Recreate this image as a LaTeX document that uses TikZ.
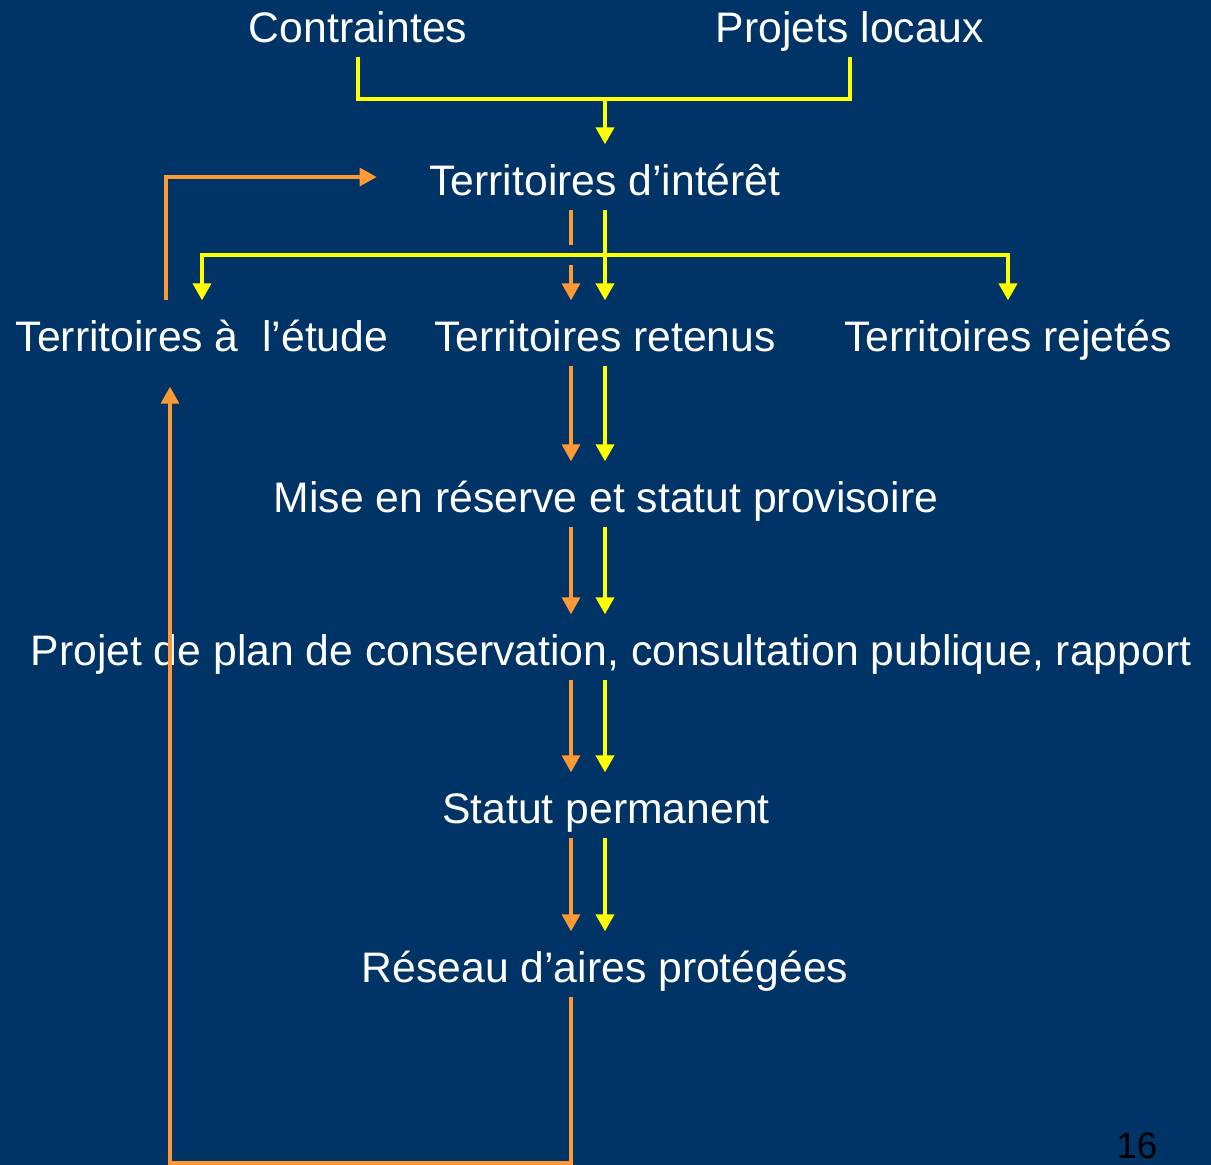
\documentclass[tikz,border=0pt]{standalone}
\usepackage{fontspec}
\setmainfont{Liberation Sans}
\usetikzlibrary{arrows.meta}
\definecolor{slidebg}{RGB}{0,51,102}
\definecolor{lineyellow}{RGB}{255,255,0}
\definecolor{lineorange}{RGB}{255,153,51}
\begin{document}
\begin{tikzpicture}[
	label/.style={text=white, font=\fontsize{12.15}{14}\selectfont, anchor=base, inner sep=0pt, text height=0.5cm, text depth=0.14cm},
	yel/.style={draw=lineyellow, line width=1.1pt},
	ora/.style={draw=lineorange, line width=0.9pt},
	tip/.style={-{Triangle[width=0.18cm,length=0.17cm]}},
	gap/.style={preaction={draw=slidebg, line width=0.2cm, -}}
	]
	\fill[slidebg] (0,0) rectangle (12.11,-11.65);
	\useasboundingbox (0,0) rectangle (12.11,-11.65);
	\node[label] (contr) at (3.58,-0.42) {Contraintes};
	\node[label] (projloc) at (8.50,-0.42) {Projets locaux};
	\node[label] (interet) at (6.05,-1.95) {Territoires d’intérêt};
	\node[label] (etude) at (2.02,-3.51) {Territoires à\ \ l’étude};
	\node[label] (retenus) at (6.05,-3.51) {Territoires retenus};
	\node[label] (rejetes) at (10.08,-3.51) {Territoires rejetés};
	\node[label] (reserve) at (6.06,-5.12) {Mise en réserve et statut provisoire};
	\node[label] (plan) at (6.11,-6.65) {Projet de plan de conservation, consultation publique, rapport};
	\node[label] (permanent) at (6.06,-8.23) {Statut permanent};
	\node[label] (reseau) at (6.05,-9.82) {Réseau d’aires protégées};
	\node[text=black, font=\fontsize{10.5}{12}\selectfont, anchor=base] (page) at (11.37,-11.58) {16};
	\coordinate (orangecol) at (5.71,0);
	\coordinate (yellowcol) at (6.05,0);
	\coordinate (fork1) at (6.05,-0.99);
	\coordinate (fork2) at (6.05,-2.55);
	\coordinate (loopcorner) at (1.70,-11.63);
	% inputs
	\draw[yel] (contr.south) |- (fork1) -| (projloc.south);
	\draw[yel,tip] (fork1) -- (interet.north);
	% back to territoires d'interet
	\draw[ora,tip] ([xshift=-0.36cm]etude.north) |- ([xshift=-0.52cm]interet.west);
	% split
	\draw[ora,tip] (interet.south -| orangecol) -- (retenus.north -| orangecol);
	\draw[yel,tip,gap] (fork2) -| (etude.north);
	\draw[yel,tip,gap] (fork2) -| (rejetes.north);
	\draw[yel,tip] (interet.south -| yellowcol) -- (retenus.north -| yellowcol);
	% main column
	\foreach \a/\b in {retenus/reserve,reserve/plan,plan/permanent,permanent/reseau}{
		\draw[ora,tip] (\a.south -| orangecol) -- (\b.north -| orangecol);
		\draw[yel,tip] (\a.south -| yellowcol) -- (\b.north -| yellowcol);
	}
	% loop back
	\draw[ora,tip] (reseau.south -| orangecol) |- (loopcorner) -- ([yshift=-0.21cm]etude.south -| loopcorner);
\end{tikzpicture}
\end{document}
